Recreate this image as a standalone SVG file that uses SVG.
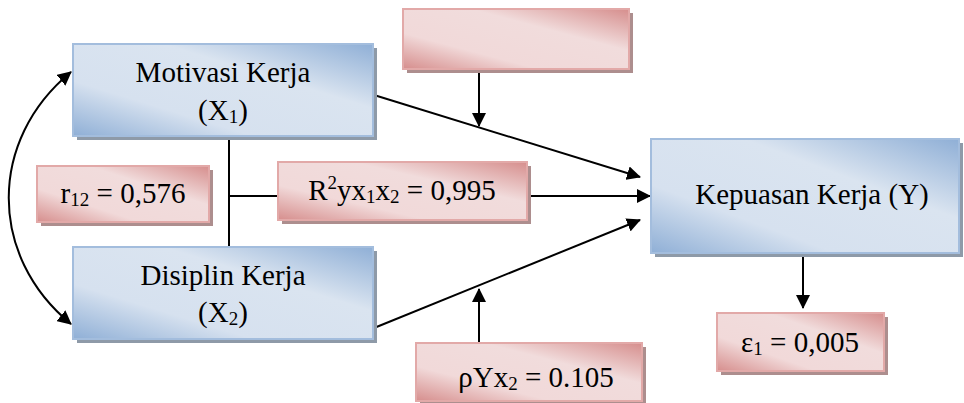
<svg xmlns="http://www.w3.org/2000/svg" width="964" height="403" viewBox="0 0 964 403">
<style>
.blue{fill:url(#gb);stroke:#a3bddd;stroke-width:2}
.pink{fill:url(#gp);stroke:#e2a9a8;stroke-width:2}
.bsh{fill:#8e9aa8}
.psh{fill:#ad8e8e}
.ln{stroke:#000;stroke-width:2;fill:none}
.ar{stroke:#000;stroke-width:2;fill:none;marker-end:url(#ah)}
</style>
<defs>
<linearGradient id="gb" x1="0" y1="1" x2="1" y2="0">
<stop offset="0" stop-color="#8fafd6"/>
<stop offset="0.3" stop-color="#d6e1ef"/>
<stop offset="0.65" stop-color="#dae4f0"/>
<stop offset="1" stop-color="#8fafd6"/>
</linearGradient>
<linearGradient id="gp" x1="0" y1="1" x2="1" y2="0">
<stop offset="0" stop-color="#d68e8d"/>
<stop offset="0.3" stop-color="#f1d9d9"/>
<stop offset="0.65" stop-color="#f1dcdc"/>
<stop offset="1" stop-color="#d68e8d"/>
</linearGradient>
<marker id="ah" viewBox="0 0 14 14" refX="13" refY="7" markerWidth="14" markerHeight="14" markerUnits="userSpaceOnUse" orient="auto-start-reverse">
<path d="M0,0 L14,7 L0,14 Z" fill="#000"/>
</marker>
</defs>

<g id="connectors">
<path class="ln" d="M229,137 V247 M229,196 H278"/>
<path class="ar" d="M374,95 L640,177"/>
<path class="ar" d="M528,196 L650,196"/>
<path class="ar" d="M374,328 L640,220"/>
<path class="ar" d="M479,70 V126"/>
<path class="ar" d="M479,342 V289"/>
<path class="ar" d="M803,255 V308"/>
<path class="ar" d="M71,72 C-12,140 -12,256 71,324" style="marker-start:url(#ah)"/>
</g>

<g font-family="Liberation Serif, Times New Roman, serif" font-size="29" text-anchor="middle" fill="#000">
<g id="motivasi">
<rect class="bsh" x="77" y="48" width="300" height="92"/>
<rect class="blue" x="73" y="44" width="300" height="92"/>
<text x="223" y="82" font-family="Liberation Serif, serif">Motivasi Kerja</text>
<text x="223" y="120" font-family="Liberation Serif, serif">(X<tspan font-size="19" dy="3">1</tspan><tspan dy="-3">)</tspan></text>
</g>

<g id="disiplin">
<rect class="bsh" x="77" y="251" width="300" height="92"/>
<rect class="blue" x="73" y="247" width="300" height="92"/>
<text x="223" y="285" font-family="Liberation Serif, serif">Disiplin Kerja</text>
<text x="223" y="322" font-family="Liberation Serif, serif">(X<tspan font-size="19" dy="3">2</tspan><tspan dy="-3">)</tspan></text>
</g>

<g id="kepuasan">
<rect class="bsh" x="655" y="143" width="308" height="114"/>
<rect class="blue" x="651" y="139" width="308" height="114"/>
<text x="812" y="204" font-family="Liberation Serif, serif">Kepuasan Kerja (Y)</text>
</g>

<g id="top-box">
<rect class="psh" x="407" y="13" width="226" height="60"/>
<rect class="pink" x="403" y="9" width="226" height="60"/>
</g>

<g id="r12">
<rect class="psh" x="41" y="170" width="172" height="56"/>
<rect class="pink" x="37" y="166" width="172" height="56"/>
<text x="123" y="203" font-family="Liberation Serif, serif">r<tspan font-size="19" dy="3">12</tspan><tspan dy="-3"> = 0,576</tspan></text>
</g>

<g id="r2">
<rect class="psh" x="282" y="166" width="249" height="58"/>
<rect class="pink" x="278" y="162" width="249" height="58"/>
<text x="402" y="200" font-family="Liberation Serif, serif">R<tspan font-size="19" dy="-11">2</tspan><tspan dy="11">yx</tspan><tspan font-size="19" dy="3">1</tspan><tspan dy="-3">x</tspan><tspan font-size="19" dy="3">2</tspan><tspan dy="-3"> = 0,995</tspan></text>
</g>

<g id="rho">
<rect class="psh" x="420" y="347" width="226" height="58"/>
<rect class="pink" x="416" y="343" width="226" height="58"/>
<text x="536" y="387" font-family="Liberation Serif, serif">ρYx<tspan font-size="19" dy="3">2</tspan><tspan dy="-3"> = 0.105</tspan></text>
</g>

<g id="epsilon">
<rect class="psh" x="721" y="317" width="167" height="58"/>
<rect class="pink" x="717" y="313" width="167" height="58"/>
<text x="800" y="352" font-family="Liberation Serif, serif">ε<tspan font-size="19" dy="3">1</tspan><tspan dy="-3"> = 0,005</tspan></text>
</g>
</g>
</svg>
